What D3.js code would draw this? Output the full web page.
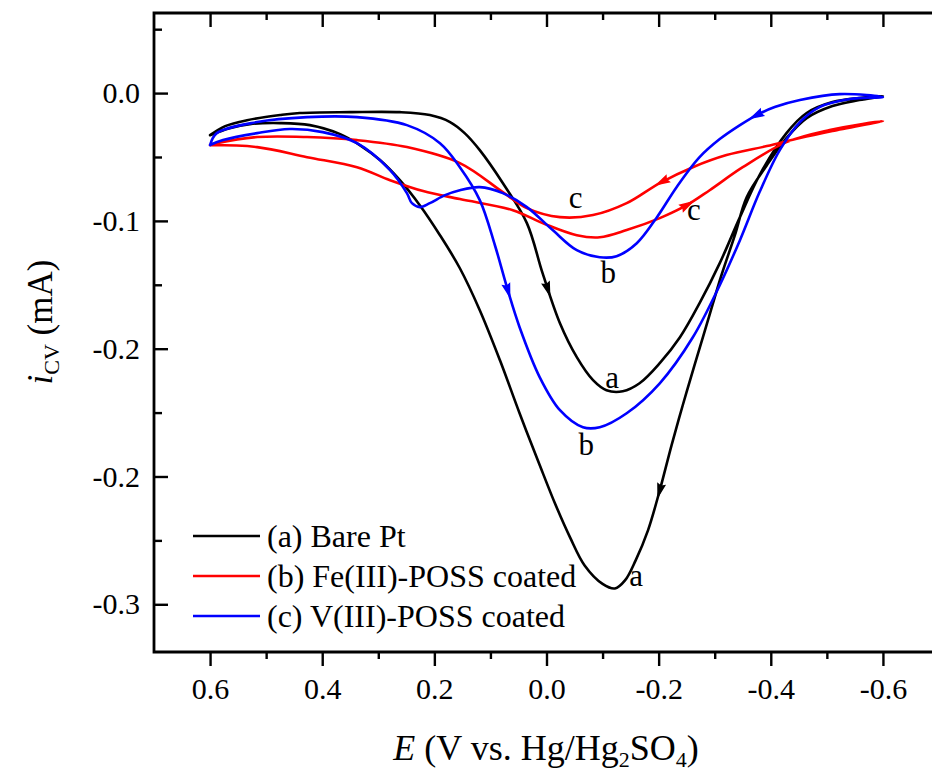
<!DOCTYPE html>
<html>
<head>
<meta charset="utf-8">
<script src="https://cdn.jsdelivr.net/npm/d3@7"></script>
<style>
  body { margin: 0; background: #fff; }
  svg { display: block; }
  text { font-family: "Liberation Serif", "Times New Roman", serif; fill: #000; }
</style>
</head>
<body>
<svg id="chart" width="932" height="771"></svg>
<script>
// Axis ticks (potential E in V, current i in mA)
const xTicks = [0.6, 0.4, 0.2, 0.0, -0.2, -0.4, -0.6];
const xTickLabels = ["0.6", "0.4", "0.2", "0.0", "-0.2", "-0.4", "-0.6"];
const xMinorTicks = [0.5, 0.3, 0.1, -0.1, -0.3, -0.5];
const yTicks = [0, -0.075, -0.15, -0.225, -0.3];
const yTickLabels = ["0.0", "-0.1", "-0.2", "-0.2", "-0.3"];
const yMinorTicks = [0.0375, -0.0375, -0.1125, -0.1875, -0.2625];

// (a) Bare Pt: forward sweep (0.6 -> -0.6 V) and reverse sweep (-0.6 -> 0.6 V)
const bareFwd = [[0.600,-0.0247],[0.573,-0.0194],[0.534,-0.0159],[0.475,-0.0129],[0.440,-0.0117],[0.351,-0.0112],[0.2615,-0.0112],[0.208,-0.0129],[0.172,-0.0170],[0.146,-0.0235],[0.119,-0.0335],[0.078,-0.0528],[0.035,-0.0763],[0.007,-0.1057],[-0.024,-0.1351],[-0.054,-0.1550],[-0.083,-0.1685],[-0.107,-0.1744],[-0.136,-0.1750],[-0.166,-0.1703],[-0.202,-0.1585],[-0.238,-0.1433],[-0.273,-0.1233],[-0.309,-0.0998],[-0.345,-0.0728],[-0.380,-0.0481],[-0.428,-0.0235],[-0.464,-0.0117],[-0.510,-0.0053],[-0.558,-0.0029],[-0.600,-0.0018]];
const bareRev = [[-0.600,-0.0023],[-0.558,-0.0041],[-0.510,-0.0076],[-0.464,-0.0147],[-0.428,-0.0264],[-0.393,-0.0423],[-0.357,-0.0611],[-0.336,-0.0834],[-0.312,-0.1069],[-0.288,-0.1333],[-0.264,-0.1597],[-0.243,-0.1832],[-0.223,-0.2067],[-0.202,-0.2331],[-0.181,-0.2566],[-0.159,-0.2742],[-0.140,-0.2860],[-0.122,-0.2907],[-0.100,-0.2880],[-0.068,-0.2772],[-0.042,-0.2607],[-0.015,-0.2407],[0.012,-0.2184],[0.048,-0.1879],[0.083,-0.1568],[0.119,-0.1274],[0.1545,-0.1028],[0.190,-0.0834],[0.226,-0.0658],[0.2615,-0.0511],[0.297,-0.0393],[0.333,-0.0305],[0.368,-0.0241],[0.422,-0.0188],[0.475,-0.0176],[0.529,-0.0182],[0.565,-0.0206],[0.600,-0.0247]];

// (b) Fe(III)-POSS coated
const feFwd = [[0.600,-0.0305],[0.516,-0.0317],[0.427,-0.0376],[0.338,-0.0435],[0.279,-0.0511],[0.220,-0.0575],[0.1545,-0.0622],[0.060,-0.0687],[0.007,-0.0763],[-0.054,-0.0834],[-0.095,-0.0846],[-0.143,-0.0804],[-0.202,-0.0734],[-0.250,-0.0658],[-0.291,-0.0570],[-0.350,-0.0435],[-0.428,-0.0288],[-0.505,-0.0217],[-0.600,-0.0164]];
const feRev = [[-0.600,-0.0164],[-0.510,-0.0223],[-0.452,-0.0264],[-0.393,-0.0311],[-0.321,-0.0364],[-0.261,-0.0435],[-0.202,-0.0528],[-0.143,-0.0646],[-0.083,-0.0716],[-0.024,-0.0728],[0.035,-0.0675],[0.078,-0.0581],[0.1545,-0.0411],[0.249,-0.0317],[0.338,-0.0276],[0.427,-0.0258],[0.516,-0.0258],[0.588,-0.0294],[0.600,-0.0305]];

// (c) V(III)-POSS coated
const vFwd = [[0.600,-0.0305],[0.588,-0.0235],[0.516,-0.0170],[0.427,-0.0141],[0.338,-0.0141],[0.249,-0.0188],[0.190,-0.0294],[0.1545,-0.0435],[0.119,-0.0628],[0.092,-0.0893],[0.069,-0.1157],[0.048,-0.1374],[0.012,-0.1668],[-0.024,-0.1861],[-0.065,-0.1961],[-0.095,-0.1961],[-0.143,-0.1879],[-0.202,-0.1703],[-0.261,-0.1433],[-0.309,-0.1127],[-0.345,-0.0863],[-0.380,-0.0581],[-0.416,-0.0335],[-0.452,-0.0170],[-0.487,-0.0082],[-0.541,-0.0035],[-0.600,-0.0023]];
const vRev = [[-0.600,0.0000],[-0.523,-0.0006],[-0.452,-0.0041],[-0.407,-0.0082],[-0.375,-0.0129],[-0.345,-0.0188],[-0.309,-0.0270],[-0.273,-0.0376],[-0.232,-0.0552],[-0.197,-0.0728],[-0.161,-0.0881],[-0.125,-0.0957],[-0.095,-0.0963],[-0.054,-0.0922],[-0.011,-0.0804],[0.035,-0.0669],[0.078,-0.0587],[0.119,-0.0552],[0.1545,-0.0570],[0.181,-0.0599],[0.208,-0.0646],[0.226,-0.0669],[0.240,-0.0646],[0.249,-0.0587],[0.279,-0.0452],[0.338,-0.0294],[0.399,-0.0229],[0.458,-0.0211],[0.516,-0.0235],[0.577,-0.0276],[0.600,-0.0305]];

const seriesNames = ["(a) Bare Pt", "(b) Fe(III)-POSS coated", "(c) V(III)-POSS coated"];
const seriesColors = ["#000000", "#ff0000", "#0000ff"];
const seriesBranches = [[bareFwd, bareRev], [feFwd, feRev], [vFwd, vRev]];

// Direction arrows: series index, branch (0 forward, 1 reverse), potential
const arrowSeries = [0, 0, 1, 1, 2, 2];
const arrowBranch = [0, 1, 0, 1, 0, 1];
const arrowE = [-0.002, -0.202, -0.250, -0.207, 0.069, -0.375];

// Curve letters
const curveLabels = ["a", "a", "c", "c", "b", "b"];
const curveLabelE = [-0.117, -0.160, -0.052, -0.263, -0.110, -0.071];
const curveLabelI = [-0.1732, -0.2895, -0.0675, -0.0746, -0.1115, -0.2126];

const svg = d3.select("#chart");
const W = 932, H = 771;
const x = d3.scaleLinear().domain([0.7, -0.7]).range([154, 939]);
const y = d3.scaleLinear().domain([-0.328, 0.047]).range([652, 13]);
const plotTop = y.range()[1], plotBottom = y.range()[0], plotLeft = x.range()[0];

// Curves
const line = d3.line().x(d => x(d[0])).y(d => y(d[1])).curve(d3.curveCatmullRom.alpha(0.5));
const curves = svg.append("g");
seriesBranches.forEach((br, si) => {
  const loop = br[0].concat(br[1].slice(1));
  curves.append("path")
    .attr("d", line(loop))
    .attr("fill", "none")
    .attr("stroke", seriesColors[si])
    .attr("stroke-width", 2.6)
    .attr("stroke-linejoin", "round")
    .attr("stroke-linecap", "round");
});

// Arrows placed on the branch paths
const helper = svg.append("g").attr("visibility", "hidden");
arrowE.forEach((e, k) => {
  const data = seriesBranches[arrowSeries[k]][arrowBranch[k]];
  const p = helper.append("path").attr("d", line(data)).node();
  const L = p.getTotalLength();
  const tx = x(e);
  const increasing = p.getPointAtLength(L).x > p.getPointAtLength(0).x;
  let lo = 0, hi = L;
  for (let it = 0; it < 40; it++) {
    const mid = (lo + hi) / 2;
    const px = p.getPointAtLength(mid).x;
    if ((px < tx) === increasing) lo = mid; else hi = mid;
  }
  const s = (lo + hi) / 2;
  const a = p.getPointAtLength(Math.max(0, s - 3));
  const b = p.getPointAtLength(Math.min(L, s + 3));
  const c = p.getPointAtLength(s);
  const ang = Math.atan2(b.y - a.y, b.x - a.x) * 180 / Math.PI;
  svg.append("path")
    .attr("d", "M9,0 L-7,-4.6 L-5,0 L-7,4.6 Z")
    .attr("transform", `translate(${c.x},${c.y}) rotate(${ang})`)
    .attr("fill", seriesColors[arrowSeries[k]]);
});
helper.remove();

// Curve letters
curveLabels.forEach((t, k) => {
  svg.append("text")
    .attr("x", x(curveLabelE[k]))
    .attr("y", y(curveLabelI[k]))
    .attr("text-anchor", "middle")
    .attr("font-size", 31)
    .text(t);
});

// Axes
function styleAxis(g) {
  g.select(".domain").remove();
  g.selectAll(".tick line").attr("stroke", "#000").attr("stroke-width", 2.4);
  g.selectAll(".tick text").attr("font-size", 30).attr("font-family", "Liberation Serif, serif");
}
svg.append("g").attr("transform", `translate(0,${plotBottom})`)
  .call(d3.axisBottom(x).tickValues(xTicks).tickSize(14).tickPadding(12).tickFormat((d, i) => xTickLabels[i]))
  .call(styleAxis);
svg.append("g").attr("transform", `translate(0,${plotBottom})`)
  .call(d3.axisBottom(x).tickValues(xMinorTicks).tickSize(7).tickFormat(""))
  .call(styleAxis);
svg.append("g").attr("transform", `translate(0,${plotTop})`)
  .call(d3.axisBottom(x).tickValues(xTicks).tickSize(14).tickFormat(""))
  .call(styleAxis);
svg.append("g").attr("transform", `translate(0,${plotTop})`)
  .call(d3.axisBottom(x).tickValues(xMinorTicks).tickSize(7).tickFormat(""))
  .call(styleAxis);
svg.append("g").attr("transform", `translate(${plotLeft},0)`)
  .call(d3.axisLeft(y).tickValues(yTicks).tickSize(-14).tickPadding(14).tickFormat((d, i) => yTickLabels[i]))
  .call(styleAxis);
svg.append("g").attr("transform", `translate(${plotLeft},0)`)
  .call(d3.axisLeft(y).tickValues(yMinorTicks).tickSize(-8).tickFormat(""))
  .call(styleAxis);

// Frame
svg.append("path")
  .attr("d", `M${W},${plotTop} H${plotLeft} V${plotBottom} H${W}`)
  .attr("fill", "none").attr("stroke", "#000").attr("stroke-width", 2.8)
  .attr("stroke-linecap", "square");

// Axis titles
const xt = svg.append("text").attr("x", 546).attr("y", 760).attr("text-anchor", "middle").attr("font-size", 36);
xt.append("tspan").attr("font-style", "italic").text("E");
xt.append("tspan").text(" (V vs. Hg/Hg");
xt.append("tspan").attr("font-size", 22).attr("dy", 7).text("2");
xt.append("tspan").attr("dy", -7).text("SO");
xt.append("tspan").attr("font-size", 22).attr("dy", 7).text("4");
xt.append("tspan").attr("dy", -7).text(")");

const yt = svg.append("text").attr("transform", "translate(52,322) rotate(-90)").attr("text-anchor", "middle").attr("font-size", 35);
yt.append("tspan").attr("font-style", "italic").text("i");
yt.append("tspan").attr("font-size", 22).attr("dy", 7).text("CV");
yt.append("tspan").attr("dy", -7).text(" (mA)");

// Legend
const legend = svg.append("g");
seriesNames.forEach((name, i) => {
  const ly = 536 + i * 40;
  legend.append("line").attr("x1", 193).attr("x2", 260).attr("y1", ly).attr("y2", ly)
    .attr("stroke", seriesColors[i]).attr("stroke-width", 2.6);
  legend.append("text").attr("x", 267).attr("y", ly).attr("dy", "0.33em")
    .attr("font-size", 32).text(name);
});
</script>
</body>
</html>
